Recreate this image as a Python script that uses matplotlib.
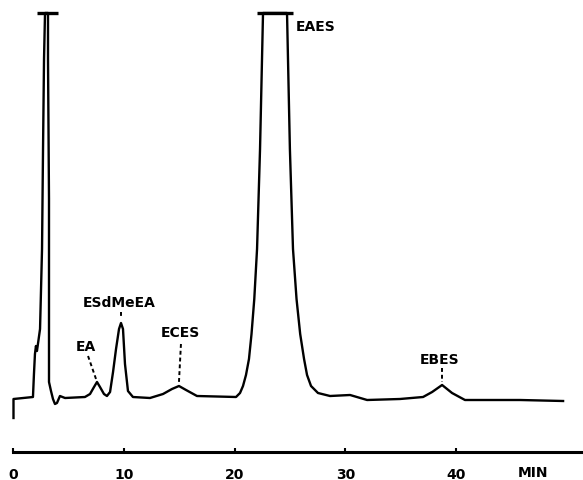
import matplotlib
matplotlib.use('Agg')
import matplotlib.pyplot as plt

# trace: time (min), detector signal (arbitrary units)
time_min = [0.0, 0.0, 1.76, 1.85, 1.94, 2.03, 2.12, 2.21, 2.40, 2.58, 2.67, 2.76, 2.85,
            3.12, 3.12, 3.21, 3.21, 3.39, 3.57, 3.75, 3.93, 4.20, 4.66, 6.46,
            6.92, 7.28, 7.55, 7.82, 8.18, 8.45, 8.73, 9.00, 9.27, 9.54, 9.72, 9.90,
            10.08, 10.35, 10.80, 12.34, 13.52, 14.33, 14.96, 15.60, 16.59,
            20.12, 20.48, 20.75, 21.02, 21.29, 21.52, 21.77, 22.02, 22.29, 22.56,
            24.73, 24.99, 25.27, 25.59, 25.92, 26.27, 26.54, 26.90, 27.53, 28.62,
            30.43, 31.97, 34.94, 37.03, 37.85, 38.75, 39.65, 40.82,
            45.80, 49.69]
signal = [-19, 0, 2, 25, 45, 53, 48, 55, 70, 150, 250, 340, 386,
          386, 340, 200, 17, 8, 0, -5, -4, 3, 1, 2,
          5, 12, 17, 12, 5, 3, 7, 27, 50, 70, 76, 70,
          35, 8, 2, 1, 5, 10, 13, 9, 3,
          2, 6, 13, 24, 40, 65, 100, 150, 250, 386,
          386, 250, 150, 100, 65, 40, 24, 13, 6, 3,
          4, -1, 0, 2, 7, 14, 6, -1,
          -1, -2]

# off-scale peaks (pen hit the top)
clip_level = 386
clip_start = [2.12, 22.02]
clip_end = [4.02, 25.27]

# peak labels
peak_names = ['EA', 'ESdMeEA', 'ECES', 'EAES', 'EBES']
label_t = [6.56, 9.54, 15.05, 25.54, 38.56]
label_s = [53, 97, 67, 373, 40]
leader_t0 = [6.74, 9.72, 15.14, None, 38.75]
leader_s0 = [43, 87, 55, None, 31]
leader_t1 = [7.46, 9.72, 14.96, None, 38.75]
leader_s1 = [20, 82, 17, None, 17]

xticks = [0, 10, 20, 30, 40]

fig = plt.figure(figsize=(5.83, 4.81), dpi=100)
ax = fig.add_axes([0, 0, 1, 1])

ax.plot(time_min, signal, color='black', linewidth=1.7, solid_joinstyle='round')
ax.hlines([clip_level] * len(clip_start), clip_start, clip_end, color='black', linewidth=2.4)

for i, name in enumerate(peak_names):
    ha = 'left' if name == 'EAES' else 'center'
    ax.text(label_t[i], label_s[i], name, ha=ha, va='center',
            fontsize=10, fontweight='bold')
    if leader_t0[i] is not None:
        ax.plot([leader_t0[i], leader_t1[i]], [leader_s0[i], leader_s1[i]],
                color='black', linewidth=1.4, linestyle=(0, (2, 1.5)))

ax.set_xlim(-1.22, 51.49)
ax.set_ylim(-81, 400)

for side in ['top', 'left', 'right']:
    ax.spines[side].set_visible(False)
ax.spines['bottom'].set_position(('data', -53))
ax.spines['bottom'].set_bounds(-0.05, 51.49)
ax.spines['bottom'].set_linewidth(2.2)
ax.set_yticks([])
ax.set_xticks(xticks)
ax.set_xticklabels([str(t) for t in xticks], fontsize=10, fontweight='bold')
ax.tick_params(axis='x', direction='in', length=3, width=1.5, pad=10.5)
ax.text(47.0, -73, 'MIN', ha='center', va='center', fontsize=10, fontweight='bold')

fig.savefig('out.png', dpi=100)
